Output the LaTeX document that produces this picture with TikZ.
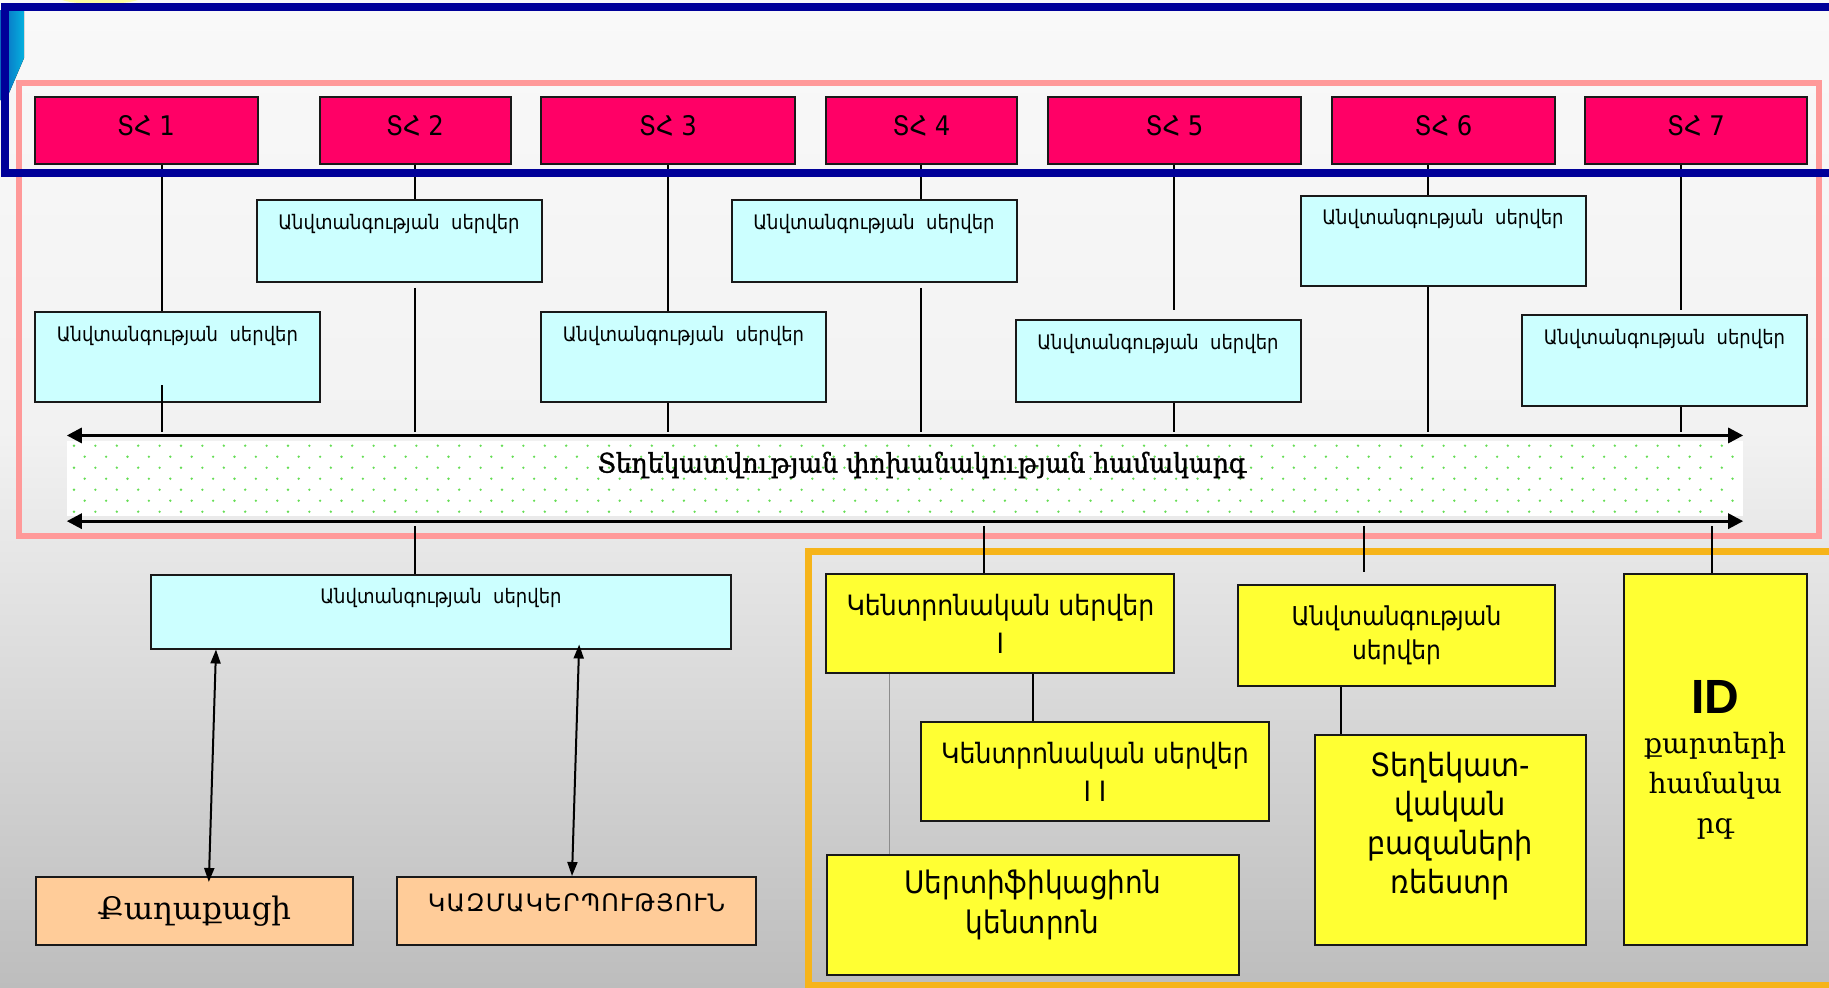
\documentclass[tikz,border=0pt]{standalone}
\usepackage{fontspec}
\usetikzlibrary{arrows.meta,calc,positioning}

\newfontfamily\armsans[FakeStretch=0.9]{DejaVu Sans}
\newfontfamily\armcaps[LetterSpace=5]{DejaVu Sans}
\newfontfamily\armserif{DejaVu Serif}
\newfontfamily\armserifbold[FakeStretch=0.93, FakeBold=1.2]{DejaVu Serif}
\newfontfamily\idfont{Liberation Sans}

\definecolor{szred}{RGB}{255,0,102}
\definecolor{srvcyan}{RGB}{204,255,255}
\definecolor{ctryellow}{RGB}{255,255,51}
\definecolor{userorange}{RGB}{255,204,153}
\definecolor{framenavy}{RGB}{0,0,153}
\definecolor{framepink}{RGB}{255,153,153}
\definecolor{frameorange}{RGB}{246,180,26}
\definecolor{dotgreen}{RGB}{102,221,85}
\definecolor{decoblue}{RGB}{10,100,190}
\definecolor{bgtop}{RGB}{249,249,249}
\definecolor{bgmid}{RGB}{242,242,242}
\definecolor{bgbot}{RGB}{189,189,189}

\begin{document}
\begin{tikzpicture}[x=1pt, y=-1pt]

%% styles
\tikzstyle{box}=[draw=black!90, line width=2pt, inner sep=0pt, align=center]
\tikzstyle{szbox}=[box, fill=szred, minimum height=67pt, text height=20pt, text depth=11pt, font=\armsans\fontsize{27}{30}\selectfont]
\tikzstyle{srvbox}=[box, fill=srvcyan, minimum width=285pt]
\tikzstyle{srvtext}=[anchor=north, inner sep=0pt, yshift=-15pt, font=\armsans\fontsize{20}{24}\selectfont]
\tikzstyle{ctrbox}=[box, fill=ctryellow]
\tikzstyle{ctrtext}=[anchor=north, inner sep=0pt, align=center]
\tikzstyle{userbox}=[box, fill=userorange, minimum height=68pt]
\tikzstyle{wire}=[line width=2pt]
\tikzstyle{thinwire}=[line width=0.8pt, black!45]
\tikzstyle{busarrow}=[line width=3pt, {Triangle[length=15pt,width=15pt]}-{Triangle[length=15pt,width=15pt]}]
\tikzstyle{linkarrow}=[line width=2pt, {Triangle[length=14pt,width=10pt]}-{Triangle[length=14pt,width=10pt]}]

%% background
\useasboundingbox (0,0) rectangle (1829,988);
\shade[top color=bgtop, bottom color=bgmid] (0,0) rectangle (1829,430);
\shade[top color=bgmid, bottom color=bgbot] (0,430) rectangle (1829,988);
\fill[left color=decoblue, right color=decoblue!50!cyan] (0,10) -- (24,10) -- (24,58) -- (6,100) -- (0,100) -- cycle;
\fill[ctryellow!45!bgtop] (100,-3) ellipse (42 and 7);

%% frames
\draw[framepink, line width=6pt] (19.4,83) rectangle (1819,536);
\draw[frameorange, line width=7pt] (808,551.5) rectangle (1850,985);

%% top row
\node (SZ1) [szbox, minimum width=223pt] at (146,130.5) {ՏՀ 1};
\node (SZ2) [szbox, minimum width=191pt] at (415,130.5) {ՏՀ 2};
\node (SZ3) [szbox, minimum width=254pt] at (668,130.5) {ՏՀ 3};
\node (SZ4) [szbox, minimum width=191pt] at (921.5,130.5) {ՏՀ 4};
\node (SZ5) [szbox, minimum width=253pt] at (1174.5,130.5) {ՏՀ 5};
\node (SZ6) [szbox, minimum width=223pt] at (1443.5,130.5) {ՏՀ 6};
\node (SZ7) [szbox, minimum width=222pt] at (1696,130.5) {ՏՀ 7};

%% security servers
\node (A1) [srvbox, minimum height=90pt, label={[srvtext]north:Անվտանգության\ \ սերվեր}] at (177.4,356.7) {};
\node (A2) [srvbox, minimum height=82pt, label={[srvtext]north:Անվտանգության\ \ սերվեր}] at (399,240.8) {};
\node (A3) [srvbox, minimum height=90pt, label={[srvtext]north:Անվտանգության\ \ սերվեր}] at (683.5,356.7) {};
\node (A4) [srvbox, minimum height=82pt, label={[srvtext]north:Անվտանգության\ \ սերվեր}] at (874,240.8) {};
\node (A5) [srvbox, minimum height=82pt, label={[srvtext]north:Անվտանգության\ \ սերվեր}] at (1158,361) {};
\node (A6) [srvbox, minimum height=90pt, label={[srvtext]north:Անվտանգության\ \ սերվեր}] at (1443,240.5) {};
\node (A7) [srvbox, minimum height=91pt, label={[srvtext]north:Անվտանգության\ \ սերվեր}] at (1664.5,360.4) {};

%% exchange band
\node (band) [minimum width=1676pt, minimum height=85.3pt, inner sep=0pt] at (905,478.3) {};
\fill[white] (67,441) rectangle (1743,516);
\foreach \r in {0,...,6}
  \foreach \k in {0,...,77}
    \fill[dotgreen] ({74+21.4*\k+10.7*mod(\r,2)},{445.7+11*\r}) circle (1.3pt);
\node (bandtitle) [font=\armserifbold\fontsize{27}{30}\selectfont] at (922,465) {Տեղեկատվության փոխանակության համակարգ};
\draw[busarrow] (band.north west) -- (band.north east);
\draw[busarrow] (band.south west) -- (band.south east);

%% users
\node (A8) [srvbox, minimum width=580pt, minimum height=74pt, label={[srvtext]north:Անվտանգության\ \ սերվեր}] at (441,611.5) {};
\node (Q) [userbox, minimum width=317pt, font=\armserif\fontsize{31}{34}\selectfont] at (194.4,911) {Քաղաքացի};
\node (K) [userbox, minimum width=359pt, label={[ctrtext, yshift=-17pt, font=\armcaps\fontsize{24}{28}\selectfont]north:ԿԱԶՄԱԿԵՐՊՈՒԹՅՈՒՆ}] at (576.5,911) {};

%% id block
\node (C1) [ctrbox, minimum width=348pt, minimum height=99pt, font=\armsans\fontsize{28}{38}\selectfont] at (1000.4,623.8) {Կենտրոնական սերվեր\\I};
\node (C2) [ctrbox, minimum width=348pt, minimum height=99pt, font=\armsans\fontsize{28}{38}\selectfont] at (1095,771.7) {Կենտրոնական սերվեր\\I I};
\node (C3) [ctrbox, minimum width=412pt, minimum height=120pt, label={[ctrtext, yshift=-16pt, font=\armsans\fontsize{31}{40}\selectfont]north:Սերտիֆիկացիոն\\կենտրոն}] at (1032.5,915) {};
\node (C4) [ctrbox, minimum width=317pt, minimum height=101pt, font=\armsans\fontsize{26}{34}\selectfont] at (1396.5,635.5) {Անվտանգության\\սերվեր};
\node (C5) [ctrbox, minimum width=271pt, minimum height=210pt, label={[ctrtext, yshift=-18pt, font=\armsans\fontsize{32}{39}\selectfont]north:Տեղեկատ-\\վական\\բազաների\\ռեեստր}] at (1450.3,840) {};
\node (C6) [ctrbox, minimum width=183.4pt, minimum height=371pt, font=\armserif\fontsize{28}{40}\selectfont] at (1715.3,759.5) {{\idfont\bfseries\fontsize{48}{52}\selectfont ID}\\քարտերի\\համակա\\րգ};

%% connectors
\foreach \i in {1,...,7}
  \coordinate (g\i) at ({161.6+253.2*(\i-1)},0);
\foreach \i/\gapa/\gapb in {1/0/-17.7, 2/0/5, 3/0/0, 4/0/5, 5/9/0, 6/0/0, 7/4/0}{
  \draw[wire, shorten >=\gapa pt] (SZ\i.south -| g\i) -- (A\i.north -| g\i);
  \draw[wire, shorten <=\gapb pt, shorten >=3pt] (A\i.south -| g\i) -- (band.north -| g\i);
}

\coordinate (tapC1) at (984,0);
\coordinate (tapC2) at (1033,0);
\coordinate (tapC3) at (889.4,0);
\coordinate (tapC4) at (1364,0);
\coordinate (tapC5) at (1341,0);
\coordinate (tapC6) at (1712,0);

\draw[wire, shorten <=4.6pt] (band.south -| g2) -- (A8.north -| g2);
\draw[wire, shorten <=4.6pt] (band.south -| tapC1) -- (C1.north -| tapC1);
\draw[wire, shorten <=4.6pt, shorten >=12pt] (band.south -| tapC4) -- (C4.north -| tapC4);
\draw[wire, shorten <=4.6pt] (band.south -| tapC6) -- (C6.north -| tapC6);
\draw[wire] (C1.south -| tapC2) -- (C2.north -| tapC2);
\draw[wire] (C4.south -| tapC5) -- (C5.north -| tapC5);
\draw[thinwire] (C1.south -| tapC3) -- (C3.north -| tapC3);

\coordinate (linkQa) at (216,0);
\coordinate (linkQb) at (209,0);
\coordinate (linkKa) at (579,0);
\coordinate (linkKb) at (572,0);
\draw[linkarrow, shorten >=-6pt] (A8.south -| linkQa) -- (Q.north -| linkQb);
\draw[linkarrow, shorten <=-5pt] (A8.south -| linkKa) -- (K.north -| linkKb);

%% outer frame
\draw[framenavy, line width=8pt] (1850,7) -- (5,7) -- (5,173) -- (1850,173);

\end{tikzpicture}
\end{document}
